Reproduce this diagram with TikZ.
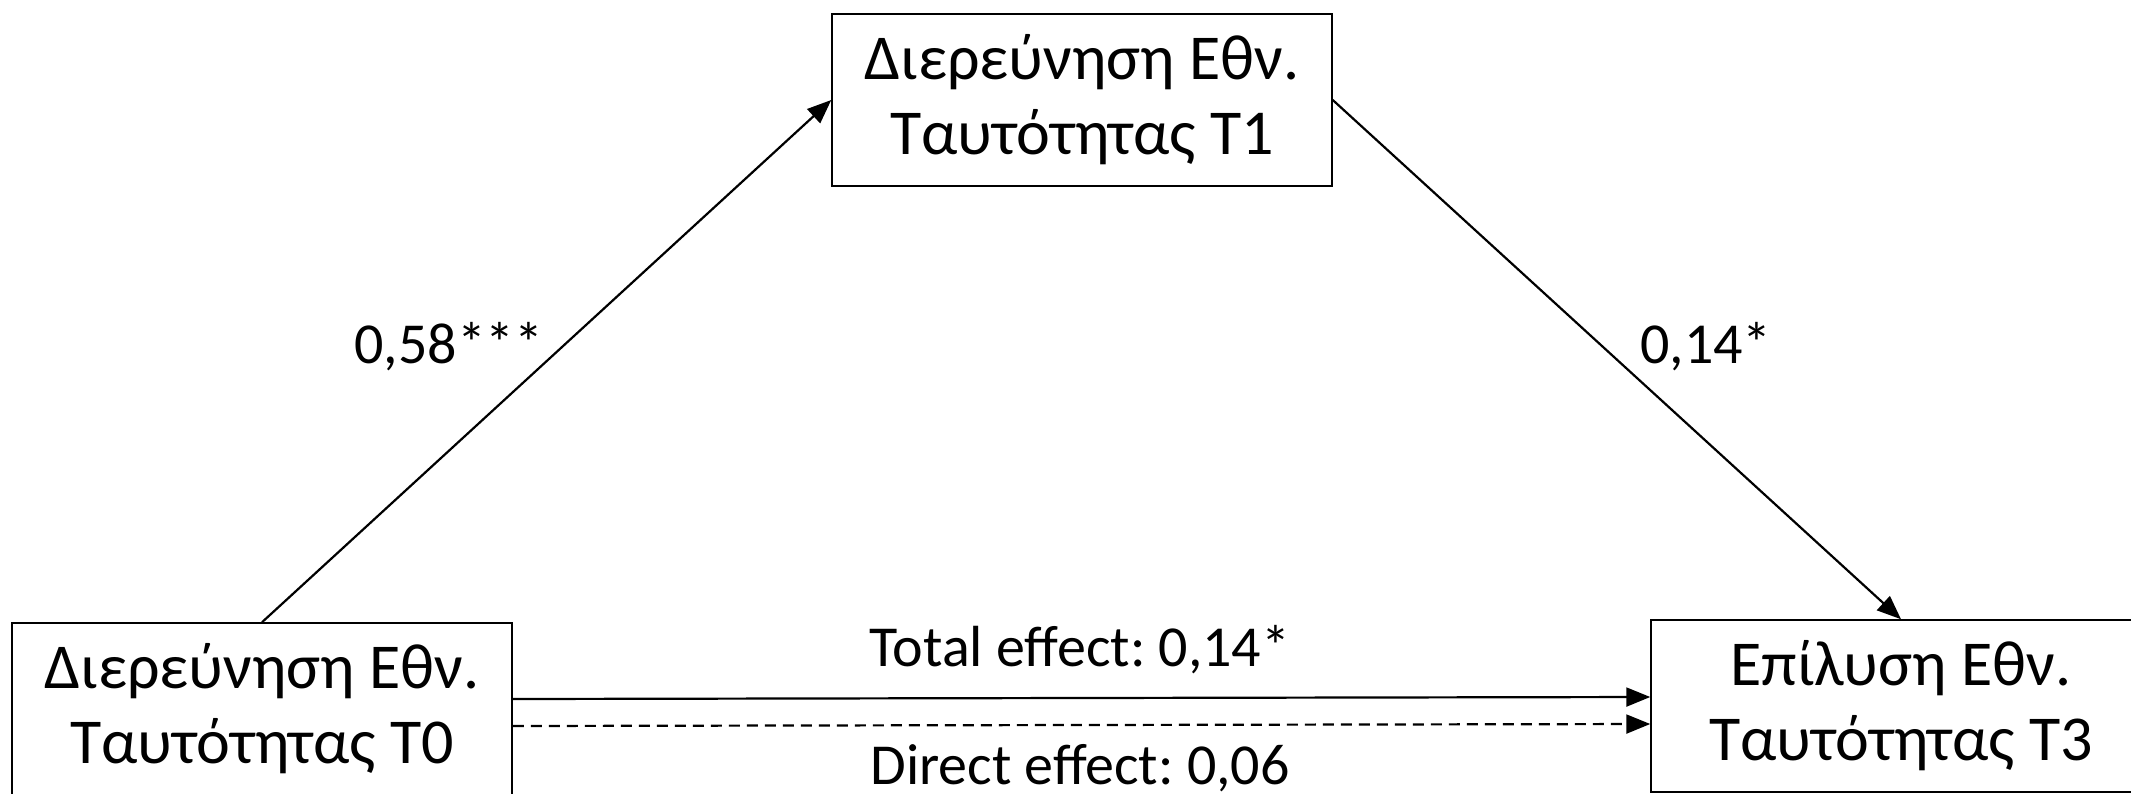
\documentclass[tikz,border=0pt]{standalone}
\usepackage{fontspec}
\setmainfont{Carlito}
\usetikzlibrary{arrows.meta}
\begin{document}
\frenchspacing
\begin{tikzpicture}[x=0.5pt,y=-0.5pt,
  varbox/.style={draw,line width=0.75pt,minimum width=250pt,minimum height=86pt,
    align=center,inner sep=0pt,font=\fontsize{32}{37.5}\selectfont},
  lbl/.style={font=\fontsize{29}{33}\selectfont,inner sep=0pt},
  conn/.style={line width=1.1pt,-{Triangle[length=12pt,width=9.5pt]}}]
\useasboundingbox (0,0) rectangle (2131,793);
\clip (0,0) rectangle (2131,793);
\node[varbox] (T0) at (262,709) {Διερεύνηση Εθν.\\Ταυτότητας Τ0};
\node[varbox] (T1) at (1082,100) {Διερεύνηση Εθν.\\Ταυτότητας Τ1};
\node[varbox] (T3) at (1901,706) {Επίλυση Εθν.\\Ταυτότητας Τ3};
\draw[conn] (T0.north) -- (T1.west);
\draw[conn] (T1.east) -- (T3.north);
\draw[conn] ([yshift=5pt]T0.east) -- ([yshift=4.5pt]T3.west);
\draw[conn,dash pattern=on 5.5pt off 3.5pt] ([yshift=-8.5pt]T0.east) -- ([yshift=-9pt]T3.west);
\node[lbl] (a) at (449,347) {0,58***};
\node[lbl] (b) at (1706,347) {0,14*};
\node[lbl] (c) at (1080,650) {Total effect: 0,14*};
\node[lbl] (d) at (1080,768) {Direct effect: 0,06};
\end{tikzpicture}
\end{document}
